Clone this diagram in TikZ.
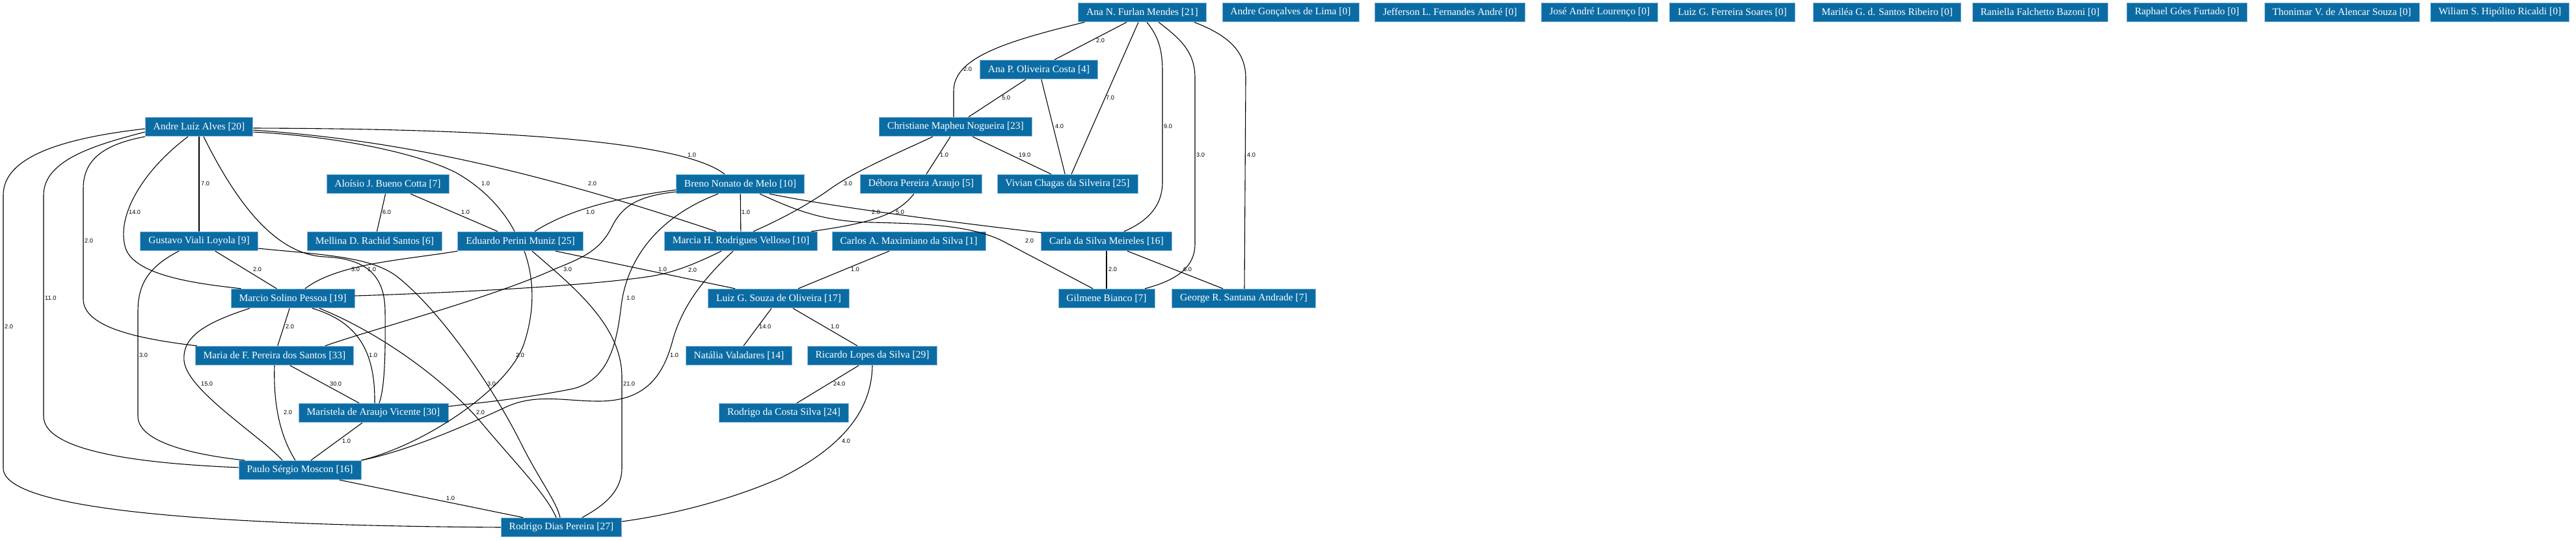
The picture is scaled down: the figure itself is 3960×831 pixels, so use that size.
\documentclass[tikz,border=0pt]{standalone}
\usepackage{fontspec}
\setmainfont{Liberation Serif}
\newfontfamily\lblfont{Liberation Sans}
\usetikzlibrary{calc}
\definecolor{boxblue}{RGB}{11,108,164}
\definecolor{boxedge}{RGB}{140,185,218}
\begin{document}
\begin{tikzpicture}[x=1pt,y=-1pt,
  pbox/.style={fill=boxblue,draw=boxedge,line width=0.8pt,text=white,
    font=\fontsize{15.5}{18}\selectfont,minimum height=29.5pt,inner xsep=12.5pt,inner ysep=0pt},
  link/.style={line width=1.1pt,black},
  lbl/.style={font=\lblfont\fontsize{9.2}{11}\selectfont,inner sep=0pt,anchor=west}]
\fill[white] (0,0) rectangle (3960,831);
\useasboundingbox (0,0) rectangle (3960,831);
% nodes
\node[pbox] (anaN) at (1756,19) {Ana N. Furlan Mendes [21]};
\node[pbox] (agl) at (1984,19) {Andre Gonçalves de Lima [0]};
\node[pbox] (jef) at (2229,19) {Jefferson L. Fernandes André [0]};
\node[pbox] (jose) at (2459,19) {José André Lourenço [0]};
\node[pbox] (luizf) at (2663,19) {Luiz G. Ferreira Soares [0]};
\node[pbox] (marilea) at (2901,19) {Mariléa G. d. Santos Ribeiro [0]};
\node[pbox] (raniella) at (3136,19) {Raniella Falchetto Bazoni [0]};
\node[pbox] (raphael) at (3362,19) {Raphael Góes Furtado [0]};
\node[pbox] (thonimar) at (3600,19) {Thonimar V. de Alencar Souza [0]};
\node[pbox] (wiliam) at (3843,19) {Wiliam S. Hipólito Ricaldi [0]};
\node[pbox] (anaP) at (1597,107) {Ana P. Oliveira Costa [4]};
\node[pbox] (chris) at (1469,195) {Christiane Mapheu Nogueira [23]};
\node[pbox] (andre) at (306,195) {Andre Luíz Alves [20]};
\node[pbox] (aloisio) at (596,283) {Aloísio J. Bueno Cotta [7]};
\node[pbox] (breno) at (1138,283) {Breno Nonato de Melo [10]};
\node[pbox] (debora) at (1416,283) {Débora Pereira Araujo [5]};
\node[pbox] (vivian) at (1641,283) {Vivian Chagas da Silveira [25]};
\node[pbox] (gustavo) at (306,371) {Gustavo Viali Loyola [9]};
\node[pbox] (mellina) at (576,371) {Mellina D. Rachid Santos [6]};
\node[pbox] (eduardo) at (800,371) {Eduardo Perini Muniz [25]};
\node[pbox] (marcia) at (1139,371) {Marcia H. Rodrigues Velloso [10]};
\node[pbox] (carlos) at (1397,371) {Carlos A. Maximiano da Silva [1]};
\node[pbox] (carla) at (1701,371) {Carla da Silva Meireles [16]};
\node[pbox] (marcio) at (450,459) {Marcio Solino Pessoa [19]};
\node[pbox] (luizS) at (1197,459) {Luiz G. Souza de Oliveira [17]};
\node[pbox] (gilmene) at (1701,459) {Gilmene Bianco [7]};
\node[pbox] (george) at (1912,459) {George R. Santana Andrade [7]};
\node[pbox] (maria) at (422,547) {Maria de F. Pereira dos Santos [33]};
\node[pbox] (natalia) at (1136,547) {Natália Valadares [14]};
\node[pbox] (ricardo) at (1341,547) {Ricardo Lopes da Silva [29]};
\node[pbox] (maristela) at (574,635) {Maristela de Araujo Vicente [30]};
\node[pbox] (rcosta) at (1205,635) {Rodrigo da Costa Silva [24]};
\node[pbox] (paulo) at (461,723) {Paulo Sérgio Moscon [16]};
\node[pbox] (rodrigo) at (863,811) {Rodrigo Dias Pereira [27]};
% edges
\draw[link] (andre) -- (gustavo);
\draw[link] ($(andre.south)+(-17,0)$) .. controls (220,262) and (180,330) .. (192,378) .. controls (202,425) and (310,437) .. ($(marcio.north west)+(16,0)$);
\draw[link] (andre.south west) .. controls (160,222) and (128,245) .. (128,290) -- (128,460) .. controls (128,505) and (220,522) .. ($(maria.north west)+(3,0)$);
\draw[link] ($(andre.west)+(0,8)$) .. controls (150,222) and (67,245) .. (67,300) -- (67,640) .. controls (67,700) and (250,714) .. ($(paulo.west)+(0,-4)$);
\draw[link] ($(andre.west)+(0,3)$) .. controls (100,212) and (5,240) .. (5,300) -- (5,720) .. controls (5,785) and (330,808) .. (rodrigo.west);
\draw[link] ($(andre.south)+(7,0)$) .. controls (365,315) and (425,392) .. (500,395) .. controls (570,398) and (592,430) .. (592,480) .. controls (593,560) and (590,600) .. ($(maristela.north)+(9,0)$);
\draw[link] ($(andre.east)+(0,2)$) .. controls (700,198) and (1040,210) .. ($(breno.north)+(-24,0)$);
\draw[link] ($(andre.east)+(0,5)$) .. controls (600,215) and (800,255) .. ($(marcia.north)+(-38,0)$);
\draw[link] ($(andre.east)+(0,8)$) .. controls (520,210) and (640,235) .. (700,265) .. controls (745,290) and (775,325) .. ($(eduardo.north)+(-9,0)$);
\draw[link] (aloisio) -- (mellina);
\draw[link] (aloisio) -- (eduardo);
\draw[link] (gustavo) -- (marcio);
\draw[link] ($(gustavo.south)+(-31,0)$) .. controls (225,412) and (212,440) .. (212,480) -- (212,640) .. controls (212,685) and (320,702) .. ($(paulo.north)+(-85,0)$);
\draw[link] ($(gustavo.east)+(0,11)$) .. controls (500,392) and (570,395) .. (610,425) .. controls (680,480) and (760,600) .. (800,680) .. controls (830,740) and (855,770) .. ($(rodrigo.north)+(-2,0)$);
\draw[link] (marcio) -- (maria);
\draw[link] ($(marcio.south)+(30,0)$) .. controls (550,495) and (577,540) .. ($(maristela.north)+(2,0)$);
\draw[link] ($(marcio.south)+(-66,0)$) .. controls (310,498) and (280,520) .. (283,555) .. controls (287,600) and (400,670) .. ($(paulo.north)+(-27,0)$);
\draw[link] ($(marcio.south)+(41,0)$) .. controls (580,510) and (680,580) .. (740,650) .. controls (790,710) and (840,760) .. ($(rodrigo.north)+(-8,0)$);
\draw[link] (eduardo.south west) .. controls (620,400) and (520,405) .. ($(marcio.north)+(19,0)$);
\draw[link] ($(eduardo.south)+(54,0)$) -- ($(luizS.north)+(-67,0)$);
\draw[link] ($(eduardo.south)+(6,0)$) .. controls (822,430) and (822,480) .. (805,530) .. controls (780,600) and (650,685) .. (paulo.north east);
\draw[link] ($(eduardo.south)+(18,0)$) .. controls (880,440) and (956,500) .. (956,580) -- (956,720) .. controls (956,760) and (920,782) .. ($(rodrigo.north)+(32,0)$);
\draw[link] ($(breno.west)+(0,9)$) .. controls (940,305) and (870,325) .. ($(eduardo.north)+(22,0)$);
\draw[link] (breno) -- (marcia);
\draw[link] ($(breno.west)+(0,12)$) .. controls (975,302) and (955,320) .. (940,350) .. controls (920,390) and (885,400) .. (850,415) .. controls (750,460) and (560,510) .. ($(maria.north)+(78,0)$);
\draw[link] ($(breno.south)+(-34,0)$) .. controls (1020,330) and (965,390) .. (955,470) .. controls (948,530) and (935,585) .. (880,598) .. controls (800,614) and (730,620) .. ($(maristela.east)+(0,-10)$);
\draw[link] ($(breno.south)+(45,0)$) .. controls (1280,318) and (1450,340) .. ($(carla.north west)+(1,2)$);
\draw[link] ($(breno.south)+(30,0)$) .. controls (1220,322) and (1265,341) .. (1340,342) .. controls (1420,344) and (1490,346) .. (1540,370) -- ($(gilmene.north)+(-21,0)$);
\draw[link] ($(chris.south)+(-35,0)$) .. controls (1370,240) and (1310,265) .. (1270,295) .. controls (1230,322) and (1190,342) .. ($(marcia.north)+(19,0)$);
\draw[link] ($(debora.south)+(-11,0)$) .. controls (1380,330) and (1340,343) .. ($(marcia.north east)+(-10,0)$);
\draw[link] ($(chris.south)+(-8,0)$) -- ($(debora.north)+(8,0)$);
\draw[link] ($(chris.south)+(26,0)$) -- ($(vivian.north)+(-25,0)$);
\draw[link] ($(anaN.south)+(-24,0)$) -- ($(anaP.north)+(24,0)$);
\draw[link] ($(anaN.south west)+(10,0)$) .. controls (1540,65) and (1466,90) .. (1466,140) -- ($(chris.north)+(-3,0)$);
\draw[link] ($(anaP.south)+(-20,0)$) -- ($(chris.north)+(20,0)$);
\draw[link] ($(anaN.south)+(-6,0)$) -- ($(vivian.north)+(6,0)$);
\draw[link] (anaP) -- (vivian);
\draw[link] ($(anaN.south)+(7,0)$) .. controls (1780,55) and (1787,75) .. (1787,110) -- (1787,280) .. controls (1787,320) and (1760,342) .. ($(carla.north)+(27,0)$);
\draw[link] ($(anaN.south)+(25,0)$) .. controls (1815,60) and (1837,80) .. (1837,120) -- (1837,375) .. controls (1837,420) and (1792,435) .. ($(gilmene.north)+(59,0)$);
\draw[link] ($(anaN.south east)+(-19,0)$) .. controls (1890,55) and (1915,80) .. (1915,120) -- ($(george.north)+(1,0)$);
\draw[link] (carla) -- (gilmene);
\draw[link] ($(carla.south)+(32,0)$) -- ($(george.north)+(-32,0)$);
\draw[link] ($(carlos.south)+(-30,0)$) -- ($(luizS.north)+(30,0)$);
\draw[link] ($(luizS.south)+(-11,0)$) -- ($(natalia.north)+(7,0)$);
\draw[link] ($(luizS.south)+(22,0)$) -- ($(ricardo.north)+(-23,0)$);
\draw[link] ($(ricardo.south)+(-21,0)$) -- ($(rcosta.north)+(20,0)$);
\draw[link] (ricardo.south) .. controls (1340,635) and (1290,690) .. (1200,735) .. controls (1120,770) and (1030,792) .. ($(rodrigo.east)+(0,-9)$);
\draw[link] ($(marcia.south)+(-30,0)$) .. controls (1070,405) and (1040,418) .. (1000,425) .. controls (900,440) and (700,450) .. ($(marcio.east)+(0,-4)$);
\draw[link] ($(marcia.south)+(-12,0)$) .. controls (1080,430) and (1050,470) .. (1035,520) .. controls (1021,575) and (995,617) .. (920,617) .. controls (870,617) and (825,605) .. (780,625) .. controls (700,662) and (620,695) .. (paulo.north east);
\draw[link] ($(maria.south)+(24,0)$) -- ($(maristela.north)+(-22,0)$);
\draw[link] (maria.south) .. controls (420,620) and (430,670) .. ($(paulo.north)+(-7,0)$);
\draw[link] ($(maristela.south)+(-17,0)$) -- ($(paulo.north)+(17,0)$);
\draw[link] ($(paulo.south)+(61,0)$) -- ($(rodrigo.north)+(-59,0)$);
% labels
\node[lbl] (l1) at (309,282) {7.0};
\node[lbl] (l2) at (198,326) {14.0};
\node[lbl] (l3) at (130,370) {2.0};
\node[lbl] (l4) at (69,458) {11.0};
\node[lbl] (l5) at (7,502) {2.0};
\node[lbl] (l6) at (565,414) {1.0};
\node[lbl] (l7) at (1057,238) {1.0};
\node[lbl] (l8) at (904,282) {2.0};
\node[lbl] (l9) at (740,282) {1.0};
\node[lbl] (l10) at (588,326) {6.0};
\node[lbl] (l11) at (709,326) {1.0};
\node[lbl] (l12) at (389,414) {2.0};
\node[lbl] (l13) at (214,546) {3.0};
\node[lbl] (l14) at (749,590) {3.0};
\node[lbl] (l15) at (439,502) {2.0};
\node[lbl] (l16) at (567,546) {1.0};
\node[lbl] (l17) at (309,590) {15.0};
\node[lbl] (l18) at (732,634) {2.0};
\node[lbl] (l19) at (540,414) {3.0};
\node[lbl] (l20) at (1012,414) {1.0};
\node[lbl] (l21) at (793,546) {2.0};
\node[lbl] (l22) at (958,590) {21.0};
\node[lbl] (l23) at (901,326) {1.0};
\node[lbl] (l24) at (1140,326) {1.0};
\node[lbl] (l25) at (866,414) {3.0};
\node[lbl] (l26) at (963,458) {1.0};
\node[lbl] (l27) at (1340,326) {2.0};
\node[lbl] (l28) at (1576,370) {2.0};
\node[lbl] (l29) at (1297,282) {3.0};
\node[lbl] (l30) at (1377,326) {5.0};
\node[lbl] (l31) at (1445,238) {1.0};
\node[lbl] (l32) at (1566,238) {19.0};
\node[lbl] (l33) at (1685,62) {2.0};
\node[lbl] (l34) at (1481,106) {2.0};
\node[lbl] (l35) at (1540,150) {5.0};
\node[lbl] (l36) at (1700,150) {7.0};
\node[lbl] (l37) at (1622,194) {4.0};
\node[lbl] (l38) at (1789,194) {9.0};
\node[lbl] (l39) at (1839,238) {3.0};
\node[lbl] (l40) at (1917,238) {4.0};
\node[lbl] (l41) at (1704,414) {2.0};
\node[lbl] (l42) at (1819,414) {6.0};
\node[lbl] (l43) at (1308,414) {1.0};
\node[lbl] (l44) at (1167,502) {14.0};
\node[lbl] (l45) at (1277,502) {1.0};
\node[lbl] (l46) at (1281,590) {24.0};
\node[lbl] (l47) at (1294,678) {4.0};
\node[lbl] (l48) at (1058,415) {2.0};
\node[lbl] (l49) at (1030,546) {1.0};
\node[lbl] (l50) at (507,590) {30.0};
\node[lbl] (l51) at (436,634) {2.0};
\node[lbl] (l52) at (526,678) {1.0};
\node[lbl] (l53) at (686,766) {1.0};
\end{tikzpicture}
\end{document}
